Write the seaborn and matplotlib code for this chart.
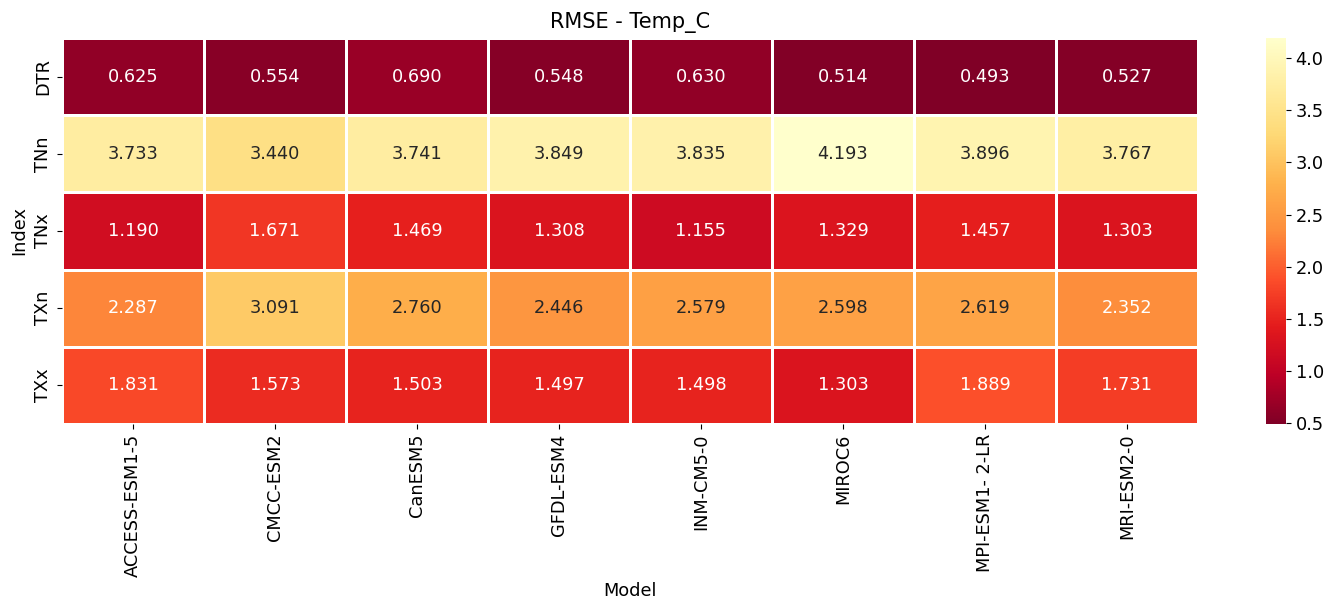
import numpy as np
import pandas as pd
import matplotlib
matplotlib.use("Agg")
import matplotlib.pyplot as plt
import seaborn as sns

models = ["ACCESS-ESM1-5", "CMCC-ESM2", "CanESM5", "GFDL-ESM4", "INM-CM5-0",
          "MIROC6", "MPI-ESM1- 2-LR", "MRI-ESM2-0"]
indices = ["DTR", "TNn", "TNx", "TXn", "TXx"]

dtr = [0.625, 0.554, 0.690, 0.548, 0.630, 0.514, 0.493, 0.527]
tnn = [3.733, 3.440, 3.741, 3.849, 3.835, 4.193, 3.896, 3.767]
tnx = [1.190, 1.671, 1.469, 1.308, 1.155, 1.329, 1.457, 1.303]
txn = [2.287, 3.091, 2.760, 2.446, 2.579, 2.598, 2.619, 2.352]
txx = [1.831, 1.573, 1.503, 1.497, 1.498, 1.303, 1.889, 1.731]

df = pd.DataFrame([dtr, tnn, tnx, txn, txx], index=indices, columns=models)
df.index.name = "Index"
df.columns.name = "Model"

plt.rcParams["font.family"] = ["DejaVu Sans"]
fig = plt.figure(figsize=(13.38, 6.03), dpi=100)
ax = fig.add_axes([0.0463, 0.297, 0.849, 0.640])
cax = fig.add_axes([0.946, 0.297, 0.015, 0.640])

fs = 12.8
sns.heatmap(df, ax=ax, cbar_ax=cax, cmap="YlOrRd_r", annot=True, fmt=".3f",
            linewidths=0.9, linecolor="white", annot_kws={"fontsize": fs})

ax.set_title("RMSE - Temp_C", fontsize=15, pad=7)
ax.set_xlabel("Model", fontsize=fs)
ax.set_ylabel("Index", fontsize=fs)
ax.tick_params(axis="both", labelsize=fs)
plt.setp(ax.get_xticklabels(), rotation=90)
plt.setp(ax.get_yticklabels(), rotation=90, va="center")
cax.tick_params(labelsize=fs)
cax.set_yticks([0.5, 1.0, 1.5, 2.0, 2.5, 3.0, 3.5, 4.0])

fig.savefig("out.png", dpi=100)
